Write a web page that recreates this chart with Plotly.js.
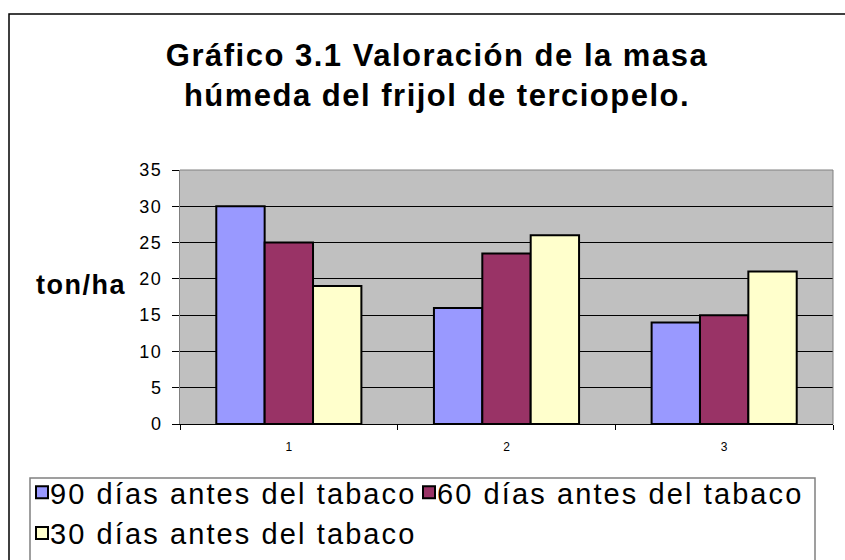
<!DOCTYPE html>
<html>
<head>
<meta charset="utf-8">
<script src="https://cdn.plot.ly/plotly-3.0.1.min.js"></script>
<style>
  html, body { margin: 0; padding: 0; background: #fff; }
  #chart { width: 845px; height: 560px; }
  .gtitle { letter-spacing: 1.5px; }
  .legendtext { letter-spacing: 2.1px; transform: translateX(-12px); }
  .legend .scrollbox { clip-path: none !important; }
  .annotation-text { letter-spacing: 1.5px; }
  .ytick text { letter-spacing: 1.5px; }
</style>
</head>
<body>
<div id="chart"></div>
<script>
const categories = ['1', '2', '3'];
const seriesNames = ['90 días antes del tabaco', '60 días antes del tabaco', '30 días antes del tabaco'];
const values90 = [30, 16, 14];
const values60 = [25, 23.5, 15];
const values30 = [19, 26, 21];
const seriesColors = ['#9999FF', '#993366', '#FFFFCC'];
const yTickValues = [0, 5, 10, 15, 20, 25, 30, 35];

const allValues = [values90, values60, values30];
const traces = allValues.map((vals, i) => ({
  type: 'bar',
  name: seriesNames[i],
  x: categories,
  y: vals,
  marker: { color: seriesColors[i], line: { color: '#000000', width: 2 } },
  hoverinfo: 'none'
}));

// plot area: x 180..833, y 170..424
const L = 180, R = 833, T = 170, B = 424;
const px = v => (v - L) / (R - L);
const py = v => (B - v) / (B - T);

const layout = {
  width: 845, height: 560,
  margin: { l: L, r: 845 - R, t: T, b: 560 - B, autoexpand: false },
  paper_bgcolor: '#FFFFFF',
  plot_bgcolor: '#C0C0C0',
  font: { family: 'Liberation Sans, Arial, sans-serif', color: '#000000' },
  title: {
    text: 'Gráfico 3.1 Valoración de la masa<br>húmeda del frijol de terciopelo.',
    font: { family: 'Liberation Sans, Arial, sans-serif', size: 31, weight: 'bold', color: '#000' },
    xref: 'container', yref: 'container',
    x: 437 / 845, xanchor: 'center',
    y: 1 - 66 / 560, yanchor: 'middle'
  },
  barmode: 'group',
  bargap: 1 / 3,
  bargroupgap: 0,
  showlegend: true,
  legend: {
    orientation: 'h',
    x: px(22), xanchor: 'left',
    y: py(467), yanchor: 'top',
    font: { size: 29, color: '#000' },
    bgcolor: 'rgba(0,0,0,0)',
    borderwidth: 0,
    entrywidth: 342, entrywidthmode: 'pixels',
    itemclick: false, itemdoubleclick: false,
    traceorder: 'normal'
  },
  xaxis: {
    type: 'category',
    showgrid: false,
    showline: true, linecolor: '#000', linewidth: 1,
    ticks: 'outside', tickson: 'boundaries', ticklen: 5, tickcolor: '#000',
    tickfont: { size: 12, color: '#000' },
    ticklabelstandoff: 12,
    zeroline: false
  },
  yaxis: {
    range: [0, 35],
    tickvals: yTickValues,
    showgrid: true, gridcolor: '#000000', gridwidth: 1,
    showline: true, linecolor: '#808080', linewidth: 1,
    ticks: 'outside', ticklen: 7, tickcolor: '#000',
    tickfont: { size: 18, color: '#000' },
    ticklabelstandoff: 6,
    zeroline: false
  },
  annotations: [{
    text: 'ton/ha',
    xref: 'paper', yref: 'paper',
    x: px(81), y: py(285), xanchor: 'center', yanchor: 'middle',
    showarrow: false,
    font: { size: 27, weight: 'bold', color: '#000' }
  }],
  shapes: [
    { type: 'path', xref: 'paper', yref: 'paper', layer: 'above',
      path: `M 0,1 L 1,1 L 1,0`, line: { color: '#808080', width: 1 } },
    { type: 'rect', xref: 'paper', yref: 'paper', layer: 'above',
      x0: px(9), x1: px(900), y0: py(620), y1: py(14),
      line: { color: '#000', width: 1.5 }, fillcolor: 'rgba(0,0,0,0)' },
    { type: 'rect', xref: 'paper', yref: 'paper', layer: 'above',
      x0: px(30), x1: px(815), y0: py(620), y1: py(478),
      line: { color: '#808080', width: 1.5 }, fillcolor: 'rgba(0,0,0,0)' }
  ]
};

Plotly.newPlot('chart', traces, layout, { displayModeBar: false, staticPlot: true });
</script>
</body>
</html>
